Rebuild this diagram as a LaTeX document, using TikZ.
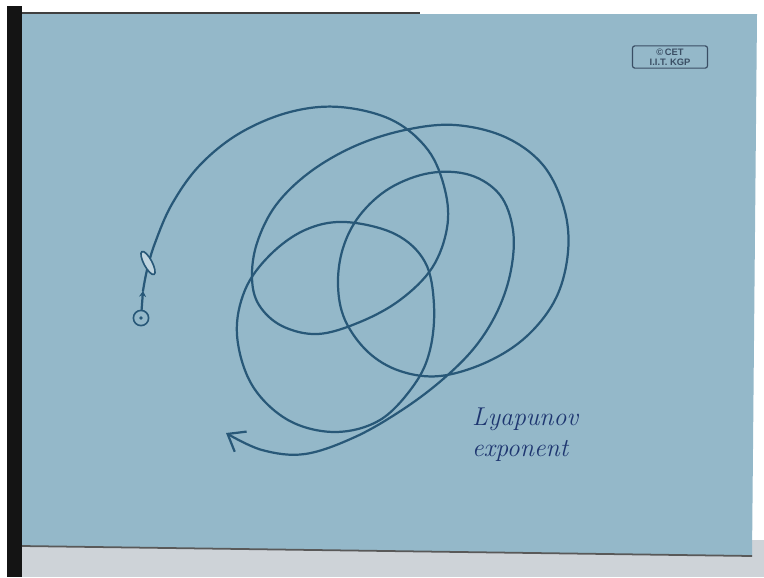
\documentclass[tikz,border=0pt]{standalone}
\usepackage{fontspec}
\setsansfont{Liberation Sans}
\usetikzlibrary{shapes,arrows.meta,positioning,calc}

\definecolor{paper}{RGB}{148,184,201}
\definecolor{ink}{RGB}{40,88,120}
\definecolor{pen}{RGB}{30,54,112}
\definecolor{stamp}{RGB}{58,78,100}
\definecolor{floor}{RGB}{206,211,216}

\begin{document}
\begin{tikzpicture}[
    x=0.03cm, y=-0.03cm,
    traj/.style={draw=ink, line width=1.9pt, line cap=round, line join=round},
    startdot/.style={draw=ink, circle, line width=1.4pt, minimum size=13pt, inner sep=0pt},
    blob/.style={draw=ink, ellipse, line width=1.4pt, fill=paper!60!white, minimum width=22pt, minimum height=7pt, inner sep=0pt},
    stampbox/.style={draw=stamp, rounded corners=2pt, line width=1pt, inner sep=1pt, minimum width=64pt, minimum height=19pt, font=\sffamily\bfseries\fontsize{8}{8.5}\selectfont, text=stamp, align=center},
    hand/.style={text=pen, font=\itshape\fontsize{22}{26}\selectfont, align=left},
]
\useasboundingbox (0,0) rectangle (764,577);

% Paper and frame
\fill[white] (0,0) rectangle (764,577);
\fill[floor] (22,540) rectangle (764,577);
\fill[black!92] (7,6) rectangle (22,577);
\fill[paper] (22,14) -- (757,14) -- (752,556) -- (22,546) -- cycle;
\draw[black!65, line width=1.5pt] (22,546) -- (752,556);
\draw[black!75, line width=2pt] (22,13) -- (420,13);

% Stamp
\node[stampbox] (cet) at (670,57) {\textcopyright\,CET\\I.I.T. KGP};

% Starting point
\node[startdot] (start) at (141,318) {};
\fill[ink] (start) circle (1.6pt);
\coordinate (tip) at (143,291);
\draw[traj, -{Stealth[length=5pt,width=6pt]}] (start) -- (tip);

% Trajectory
\draw[traj, -{Straight Barb[length=13pt,width=20pt]}] plot[smooth, tension=0.6] coordinates {
  (tip) (147,270) (155,243) (172,204) (200,165) (240,133) (290,112)
  (340,107) (392,120) (428,150) (445,190) (447,228) (432,268) (400,300)
  (360,322) (318,334) (282,326) (259,305) (252,278) (257,243) (276,205)
  (310,172) (355,146) (405,130) (455,125) (505,137) (543,165) (564,208)
  (568,252) (556,298) (527,336) (487,362) (440,376) (400,371) (368,352)
  (345,320) (338,285) (343,248) (360,215) (390,188) (430,173) (470,175)
  (500,195) (513,230) (511,270) (498,310) (475,347) (442,380) (402,410)
  (355,437) (305,454) (262,450) (226,433)};

% Lower loop
\draw[traj] plot[smooth cycle, tension=0.6] coordinates {
  (345,222) (395,234) (425,262) (434,305) (430,350) (414,385) (380,420)
  (335,432) (288,420) (252,385) (237,335) (245,290) (270,255) (305,230)};

% Perturbation mark
\node[blob, rotate=-62] (mark) at (148,263) {};

% Label
\node[hand, anchor=north west] (lyap) at (468,404) {Lyapunov\\exponent};

\end{tikzpicture}
\end{document}
